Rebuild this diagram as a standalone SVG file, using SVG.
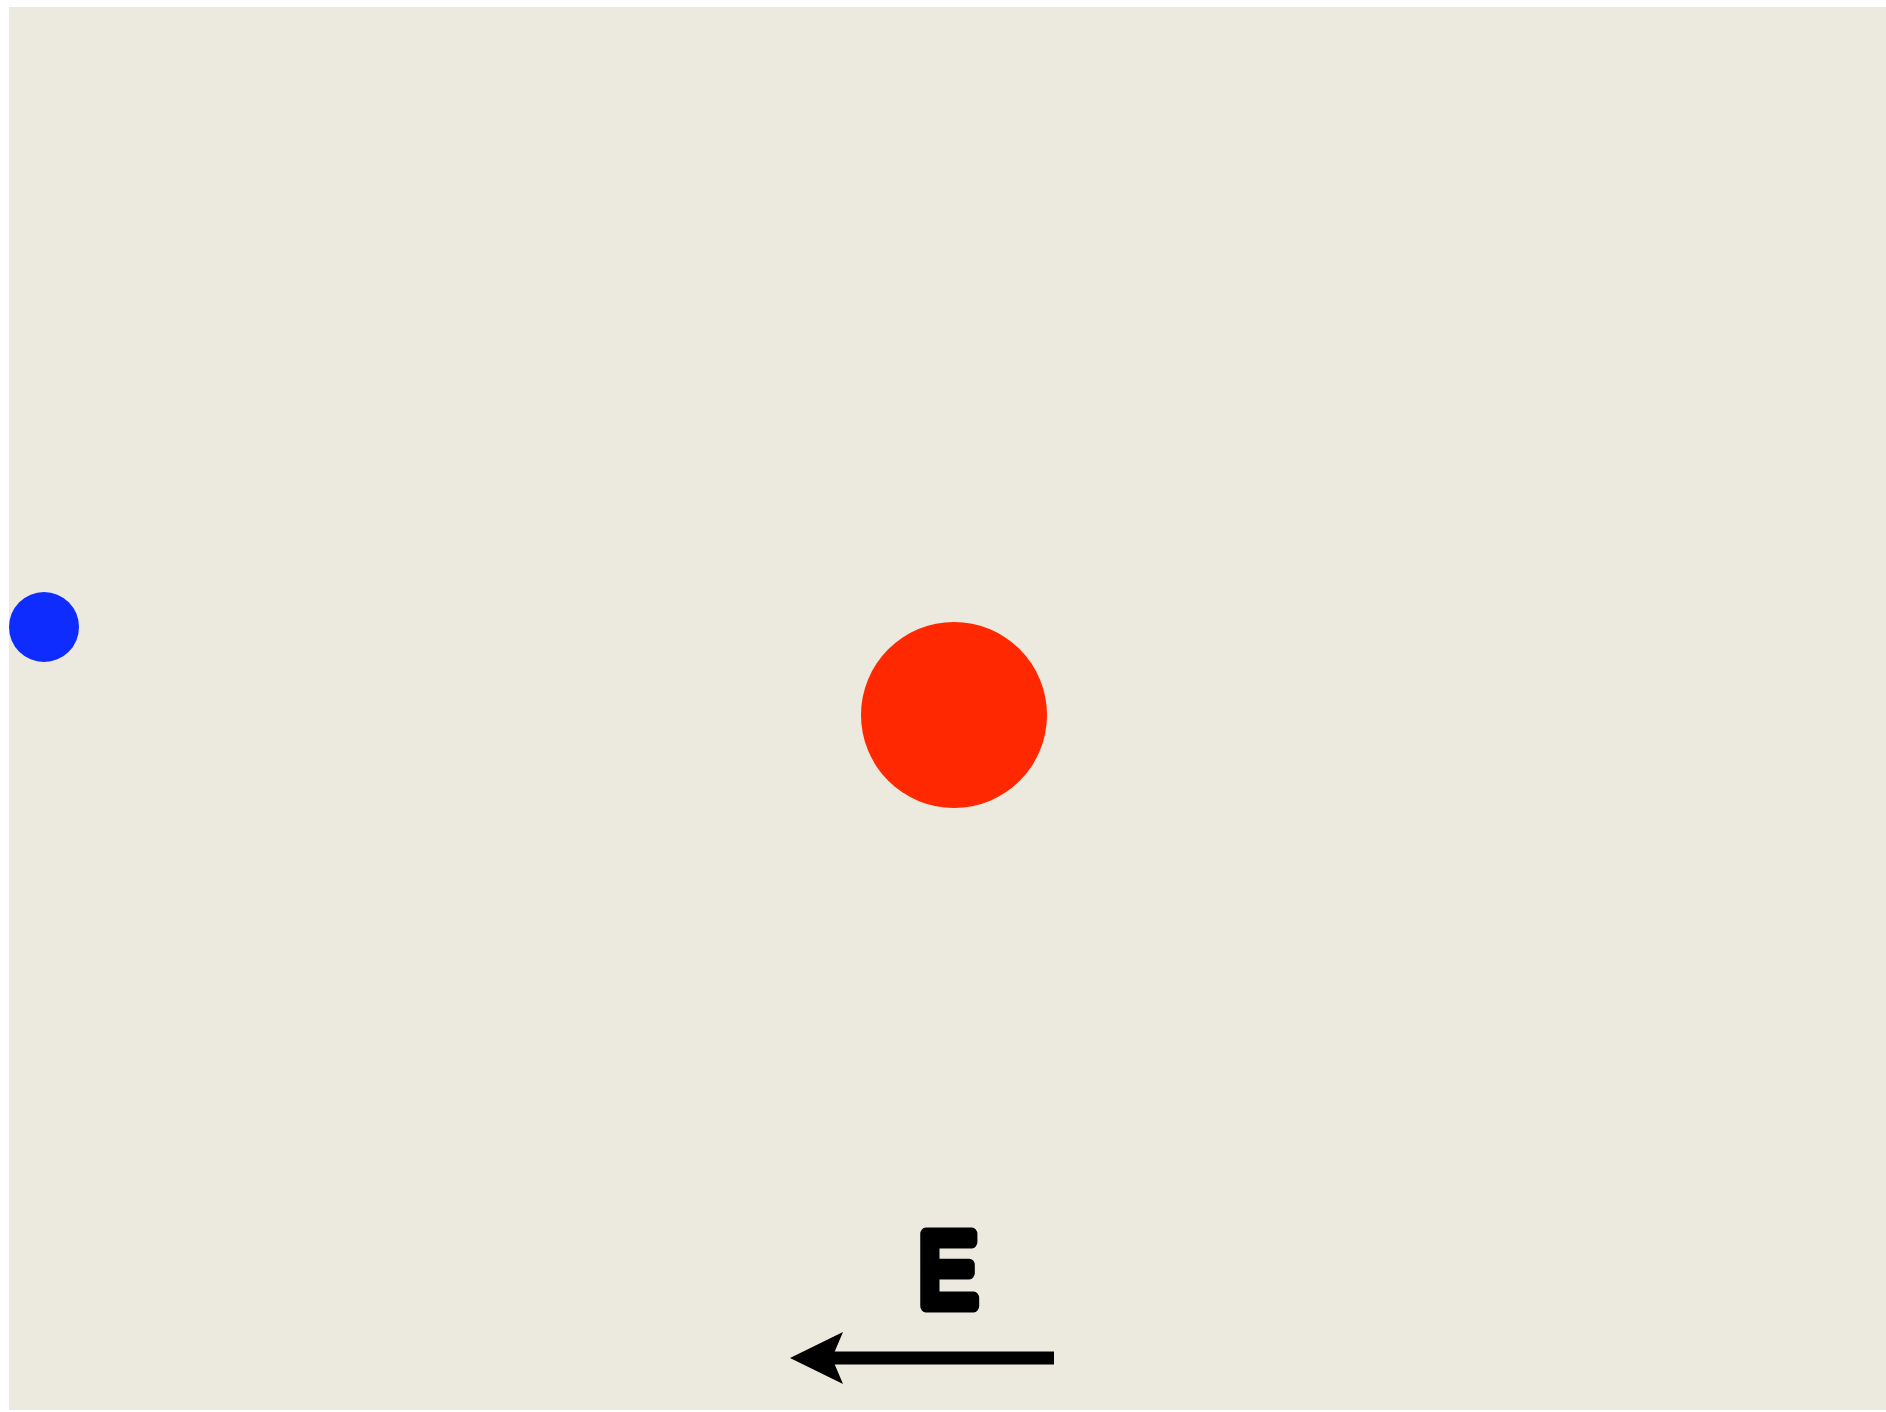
<svg xmlns="http://www.w3.org/2000/svg" width="1886" height="1412" viewBox="0 0 1886 1412">
<style>
.lbl{font-family:"Liberation Sans","DejaVu Sans",sans-serif;font-weight:normal;fill:#000;stroke:#000;stroke-width:13;stroke-linejoin:round;stroke-linecap:round}
</style>
<defs><clipPath id="bg"><rect x="9" y="7" width="1877" height="1403"/></clipPath></defs>
<rect width="1886" height="1412" fill="#ffffff"/>
<rect x="9" y="7" width="1877" height="1403" fill="#eceade"/>
<g id="blue-charge" clip-path="url(#bg)"><circle cx="44" cy="627" r="35" fill="#0f2cff"/></g>
<g id="red-charge"><circle cx="954" cy="715" r="93" fill="#ff2800"/></g>
<g id="connectors">
<line x1="1054" y1="1358" x2="832" y2="1358" stroke="#000" stroke-width="13"/>
<polygon points="790,1358 843,1332 832,1358 843,1384" fill="#000"/>
</g>
<g id="field-label"><text class="lbl" x="948" y="1306" font-size="104" text-anchor="middle" transform="translate(948 0) scale(0.85 1) translate(-948 0)">E</text></g>
</svg>
